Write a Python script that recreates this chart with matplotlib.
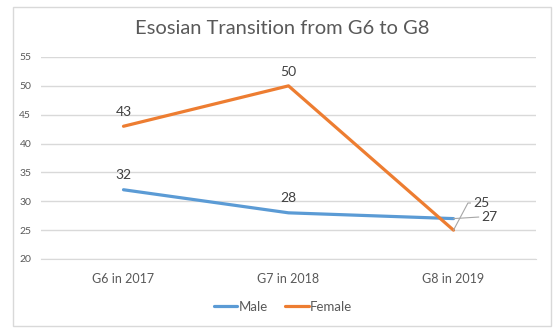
import matplotlib.pyplot as plt
from matplotlib.patches import Rectangle

categories = ["G6 in 2017", "G7 in 2018", "G8 in 2019"]
male = [32, 28, 27]
female = [43, 50, 25]
y_ticks = [20, 25, 30, 35, 40, 45, 50, 55]

blue = "#5B9BD5"
orange = "#ED7D31"
text_grey = "#595959"
grid_grey = "#D9D9D9"

plt.rcParams["font.family"] = ["Lato", "DejaVu Sans"]

fig = plt.figure(figsize=(5.58, 3.35), dpi=100)
ax = fig.add_axes([41 / 558, 1 - 259 / 335, 495 / 558, 202 / 335])

# cornice del grafico
fig.patches.append(Rectangle((13 / 558, 1 - 326 / 335), 538 / 558, 319 / 335,
                             transform=fig.transFigure, fill=False,
                             edgecolor=grid_grey, lw=1))

x = list(range(len(categories)))
ax.plot(x, male, color=blue, lw=2.3, label="Male", solid_capstyle="round")
ax.plot(x, female, color=orange, lw=2.3, label="Female", solid_capstyle="round")

ax.set_xlim(-0.5, len(categories) - 0.5)
ax.set_ylim(y_ticks[0], y_ticks[-1])
ax.set_yticks(y_ticks)
ax.set_xticks(x)
ax.set_xticklabels(categories)
ax.tick_params(axis="y", length=0, pad=7, labelsize=7.5, labelcolor=text_grey)
ax.tick_params(axis="x", length=0, pad=10, labelsize=9, labelcolor=text_grey)
ax.grid(axis="y", color=grid_grey, lw=1)
ax.set_axisbelow(True)
for s in ["left", "right", "top"]:
    ax.spines[s].set_visible(False)
ax.spines["bottom"].set_color(grid_grey)

# etichette dei dati
for i in x[:-1]:
    ax.annotate(str(male[i]), (i, male[i]), xytext=(0, 6), textcoords="offset points",
                ha="center", va="bottom", fontsize=10, color="#404040")
    ax.annotate(str(female[i]), (i, female[i]), xytext=(0, 6), textcoords="offset points",
                ha="center", va="bottom", fontsize=10, color="#404040")

last = x[-1]
ax.annotate(str(female[last]), (last, female[last]), xytext=(last + 0.12, female[last] + 4.7),
            ha="left", va="center", fontsize=10, color="#404040",
            arrowprops=dict(arrowstyle="-", color="#A6A6A6", lw=0.8, shrinkA=0, shrinkB=0,
                            relpos=(0, 0.5), connectionstyle="angle,angleA=0,angleB=62,rad=0"))
ax.annotate(str(male[last]), (last, male[last]), xytext=(last + 0.17, male[last] + 0.3),
            ha="left", va="center", fontsize=10, color="#404040",
            arrowprops=dict(arrowstyle="-", color="#A6A6A6", lw=0.8, shrinkA=0, shrinkB=0,
                            relpos=(0, 0.5)))

fig.text(282 / 558, 1 - 29 / 335, "Esosian Transition from G6 to G8", ha="center", va="center",
         fontsize=14.5, color=text_grey)

fig.legend(loc="center", bbox_to_anchor=(283 / 558, 1 - 307 / 335), ncol=2, frameon=False,
           fontsize=9.5, labelcolor=text_grey, handlelength=1.8, handletextpad=0.1,
           columnspacing=1.3)

fig.savefig("out.png", dpi=100)
